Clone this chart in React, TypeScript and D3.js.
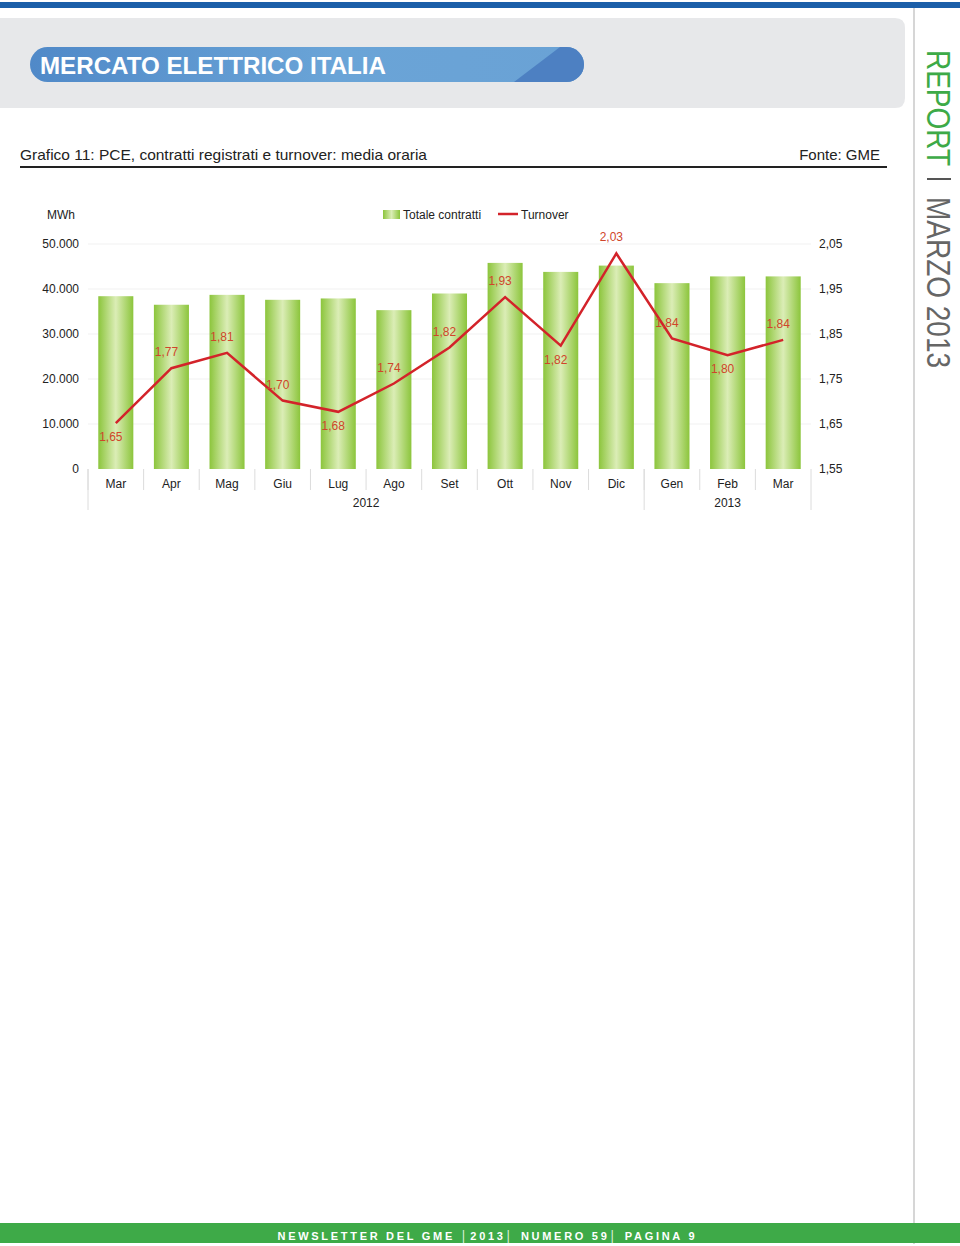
import React from "react";
import * as d3 from "d3";

const months = ["Mar", "Apr", "Mag", "Giu", "Lug", "Ago", "Set", "Ott", "Nov", "Dic", "Gen", "Feb", "Mar"];
const totaleContratti = [38400, 36500, 38700, 37600, 37900, 35300, 39000, 45800, 43800, 45200, 41300, 42800, 42800];
const turnover = [1.652, 1.774, 1.808, 1.702, 1.677, 1.74, 1.82, 1.932, 1.824, 2.029, 1.84, 1.803, 1.837];
const labelPlacement = ["below", "above", "above", "above", "below", "above", "above", "above", "below", "above", "above", "below", "above"];
const years = ["2012", "2013"];
const yearMonthCounts = [10, 3];
const leftTicks = [0, 10000, 20000, 30000, 40000, 50000];
const rightTicks = [1.55, 1.65, 1.75, 1.85, 1.95, 2.05];

const FONT = "'Liberation Sans', Arial, sans-serif";
const locale = d3.formatLocale({ decimal: ",", thousands: ".", grouping: [3], currency: ["", "€"] });
const fmtLeft = locale.format(",.0f");
const fmtRight = locale.format(".2f");

export default function App() {
  const W = 960, H = 1246;
  const plotL = 88, plotR = 811, plotT = 244, plotB = 469;
  const idx = months.map((_, i) => i);
  const x = d3.scaleBand<number>().domain(idx).range([plotL, plotR]).paddingInner(0.37).paddingOuter(0.185);
  const step = x.step();
  const bw = x.bandwidth();
  const cx = (i: number) => (x(i) as number) + bw / 2;
  const boundary = (i: number) => cx(i) - step / 2;
  const yL = d3.scaleLinear().domain([0, 50000]).range([plotB, plotT]);
  const yR = d3.scaleLinear().domain([1.55, 2.05]).range([plotB, plotT]);
  const line = d3.line<number>().x((_, i) => cx(i)).y((d) => yR(d));

  const groupEdges: number[] = [0];
  yearMonthCounts.forEach((c, i) => groupEdges.push(groupEdges[i] + c));

  return (
    <svg width={W} height={H} style={{ position: "absolute", left: 0, top: 0, background: "#fff" }} fontFamily={FONT}>
      <defs>
        <linearGradient id="barGrad" x1="0" x2="1" y1="0" y2="0">
          <stop offset="0%" stopColor="#8cc53c" />
          <stop offset="50%" stopColor="#dbedb6" />
          <stop offset="100%" stopColor="#8cc53c" />
        </linearGradient>
        <linearGradient id="pillGrad" x1="0" x2="1" y1="0" y2="0">
          <stop offset="0%" stopColor="#5089c8" />
          <stop offset="55%" stopColor="#6aa4d7" />
          <stop offset="100%" stopColor="#6aa2d5" />
        </linearGradient>
        <clipPath id="pillClip">
          <rect x={30} y={47} width={554} height={35} rx={17.5} />
        </clipPath>
      </defs>

      <rect x={0} y={2} width={W} height={6} fill="#1b5fa9" />
      <path d={`M0,18 H895 Q905,18 905,28 V98 Q905,108 895,108 H0 Z`} fill="#e7e8ea" />
      <g clipPath="url(#pillClip)">
        <rect x={30} y={47} width={554} height={35} fill="url(#pillGrad)" />
        <path d="M560,47 L600,47 L600,82 L514,82 Z" fill="#4d80c2" />
      </g>
      <text x={40} y={74} fill="#fff" fontSize={23} fontWeight="bold" textLength={346} lengthAdjust="spacingAndGlyphs">
        MERCATO ELETTRICO ITALIA
      </text>

      <text x={20} y={160} fontSize={15} fill="#222" textLength={407} lengthAdjust="spacingAndGlyphs">
        Grafico 11: PCE, contratti registrati e turnover: media oraria
      </text>
      <text x={880} y={160} fontSize={15} fill="#222" textAnchor="end">Fonte: GME</text>
      <line x1={20} x2={887} y1={167} y2={167} stroke="#222" strokeWidth={2} />

      <line x1={914} x2={914} y1={8} y2={1244} stroke="#c9c9c9" strokeWidth={1.5} />
      <text transform="translate(927,50) rotate(90)" fontSize={33} fill="#3daa47" textLength={116} lengthAdjust="spacingAndGlyphs">REPORT</text>
      <line x1={927} x2={951} y1={179} y2={179} stroke="#555" strokeWidth={2} />
      <text transform="translate(927,197) rotate(90)" fontSize={33} fill="#666" textLength={171} lengthAdjust="spacingAndGlyphs">MARZO 2013</text>

      {leftTicks.slice(1).map((t) => (
        <line key={t} x1={plotL} x2={plotR} y1={yL(t)} y2={yL(t)} stroke="#f1f1f1" strokeWidth={1} />
      ))}

      {leftTicks.map((t) => (
        <text key={t} x={79} y={yL(t) + 4} fontSize={12} fill="#222" textAnchor="end">{fmtLeft(t)}</text>
      ))}
      <text x={47} y={219} fontSize={12} fill="#222">MWh</text>
      {rightTicks.map((t) => (
        <text key={t} x={819} y={yR(t) + 4} fontSize={12} fill="#222">{fmtRight(t)}</text>
      ))}

      {totaleContratti.map((v, i) => (
        <rect key={i} x={x(i)} y={yL(v)} width={bw} height={plotB - yL(v)} fill="url(#barGrad)" />
      ))}

      {months.map((_, i) => (
        <line key={i} x1={boundary(i)} x2={boundary(i)} y1={plotB} y2={490} stroke="#dcdcdc" />
      ))}
      {groupEdges.map((g, i) => {
        const xx = g < months.length ? boundary(g) : boundary(months.length - 1) + step;
        return <line key={"g" + i} x1={xx} x2={xx} y1={plotB} y2={510} stroke="#dcdcdc" />;
      })}
      {months.map((m, i) => (
        <text key={i} x={cx(i)} y={488} fontSize={12} fill="#222" textAnchor="middle">{m}</text>
      ))}
      {years.map((yr, i) => {
        const a = boundary(groupEdges[i]);
        const b = boundary(groupEdges[i + 1] - 1) + step;
        return <text key={yr} x={(a + b) / 2} y={507} fontSize={12} fill="#222" textAnchor="middle">{yr}</text>;
      })}

      <path d={line(turnover) || ""} fill="none" stroke="#d3232a" strokeWidth={2.5} strokeLinejoin="miter" />
      {turnover.map((v, i) => (
        <text key={i} x={cx(i) - 5} y={labelPlacement[i] === "above" ? yR(v) - 12 : yR(v) + 18} fontSize={12} fill="#d0452a" textAnchor="middle">
          {fmtRight(v)}
        </text>
      ))}

      <rect x={383} y={210} width={17} height={9} fill="url(#barGrad)" />
      <text x={403} y={219} fontSize={12} fill="#222">Totale contratti</text>
      <line x1={498} x2={518} y1={214} y2={214} stroke="#d3232a" strokeWidth={2.5} />
      <text x={521} y={219} fontSize={12} fill="#222">Turnover</text>

      <rect x={0} y={1223} width={W} height={20} fill="#3eaa48" />
      <text x={486} y={1240} fontSize={11} fontWeight="bold" fill="#fff" textAnchor="middle" textLength={417} lengthAdjust="spacing">
        NEWSLETTER DEL GME │2013│ NUMERO 59│ PAGINA 9
      </text>
    </svg>
  );
}
